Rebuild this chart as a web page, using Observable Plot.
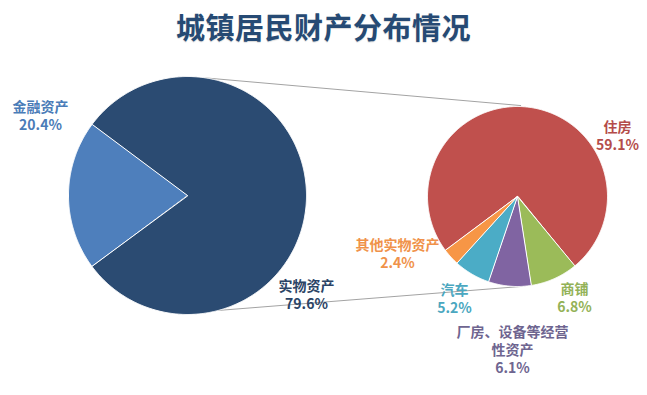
<!DOCTYPE html>
<html>
<head>
<meta charset="utf-8">
<script src="https://cdn.jsdelivr.net/npm/d3@7"></script>
<script src="https://cdn.jsdelivr.net/npm/@observablehq/plot@0.6"></script>
<style>
  html, body { margin: 0; padding: 0; background: #ffffff; }
  #wrap { width: 647px; height: 395px; overflow: hidden; font-family: "Noto Sans CJK SC", "Noto Sans", sans-serif; }
  #title { height: 50px; line-height: 52px; text-align: center; font-size: 29px; font-weight: bold; color: #264a74; letter-spacing: 0.5px; text-shadow: 0 1px 1px rgba(0,0,0,0.15); }
  svg { display: block; }
</style>
</head>
<body>
<div id="wrap">
  <div id="title"></div>
  <div id="chart"></div>
</div>
<script>
// ---- data ----
const chartTitle = "城镇居民财产分布情况";
const primaryCategories = ["金融资产", "实物资产"];
const primaryValues = [20.4, 79.6];
const secondaryCategories = ["住房", "商铺", "厂房、设备等经营性资产", "汽车", "其他实物资产"];
const secondaryValues = [59.1, 6.8, 6.1, 5.2, 2.4];

// ---- styles ----
const primaryColors = ["#4e7fbc", "#2b4b72"];
const primaryTextColors = ["#4a7cb8", "#2b4466"];
const secondaryColors = ["#c0504d", "#9bbb59", "#8064a2", "#4bacc6", "#f79646"];
const secondaryTextColors = ["#b44c4a", "#93b257", "#6e6590", "#4aa7c0", "#f0924a"];
// label text (line-broken display form)
const secondaryLabelText = ["住房", "商铺", "厂房、设备等经营\n性资产", "汽车", "其他实物资产"];

// ---- layout ----
const W = 647, H = 345, TOP = 50;
const left = {cx: 187, cy: 195, r: 119, start: 270 - (primaryValues[0] / d3.sum(primaryValues)) * 180};
const right = {cx: 517, cy: 196, r: 90, start: 233.1};
const primaryLabelPos = [[40, 114.5], [306, 294]];
const secondaryLabelPos = [[617, 135], [574, 297], [512, 348.5], [454, 297.5], [397, 252.5]];

document.getElementById("title").textContent = chartTitle;

const rad = d => d * Math.PI / 180;
function pt(p, a, r) { return {x: p.cx + r * Math.sin(a), y: p.cy - r * Math.cos(a)}; }

function slices(pie, cats, vals, colors) {
  const arcs = d3.pie().sort(null).startAngle(rad(pie.start)).endAngle(rad(pie.start + 360))(vals);
  const rows = [];
  arcs.forEach((a, i) => {
    rows.push({key: cats[i], color: colors[i], ...pt(pie, 0, 0)});
    const n = Math.max(2, Math.ceil((a.endAngle - a.startAngle) / rad(0.5)));
    for (let k = 0; k <= n; k++) {
      const t = a.startAngle + (a.endAngle - a.startAngle) * k / n;
      rows.push({key: cats[i], color: colors[i], ...pt(pie, t, pie.r)});
    }
  });
  return rows;
}

const polys = [
  ...slices(left, primaryCategories, primaryValues, primaryColors),
  ...slices(right, secondaryCategories, secondaryValues, secondaryColors)
];

// connector lines between the two pies
const connectors = [
  {id: "top", ...pt(left, rad(9), left.r)}, {id: "top", ...pt(right, rad(2), right.r + 1)},
  {id: "bot", ...pt(left, rad(165), left.r)}, {id: "bot", ...pt(right, rad(177), right.r)}
];

const labels = [
  ...primaryCategories.map((c, i) => ({text: c + "\n" + primaryValues[i].toFixed(1) + "%", color: primaryTextColors[i], x: primaryLabelPos[i][0], y: primaryLabelPos[i][1]})),
  ...secondaryCategories.map((c, i) => ({text: secondaryLabelText[i] + "\n" + secondaryValues[i].toFixed(1) + "%", color: secondaryTextColors[i], x: secondaryLabelPos[i][0], y: secondaryLabelPos[i][1]}))
];

const chart = Plot.plot({
  width: W, height: H,
  margin: 0,
  x: {domain: [0, W], range: [0, W], axis: null},
  y: {domain: [TOP, TOP + H], range: [0, H], axis: null},
  style: {background: "white", overflow: "visible"},
  marks: [
    Plot.line(connectors, {x: "x", y: "y", z: "id", stroke: "#a3a3a3", strokeWidth: 1}),
    Plot.line(polys, {x: "x", y: "y", z: "key", fill: "color", stroke: "white", strokeWidth: 1, strokeLinejoin: "round", curve: "linear-closed"}),
    Plot.text(labels, {x: "x", y: "y", text: "text", fill: "color", fontSize: 14, fontWeight: "bold", lineHeight: 1.3, fontFamily: "Noto Sans CJK SC", stroke: "white", strokeWidth: 3, strokeOpacity: 0})
  ]
});
document.getElementById("chart").appendChild(chart);
</script>
</body>
</html>
